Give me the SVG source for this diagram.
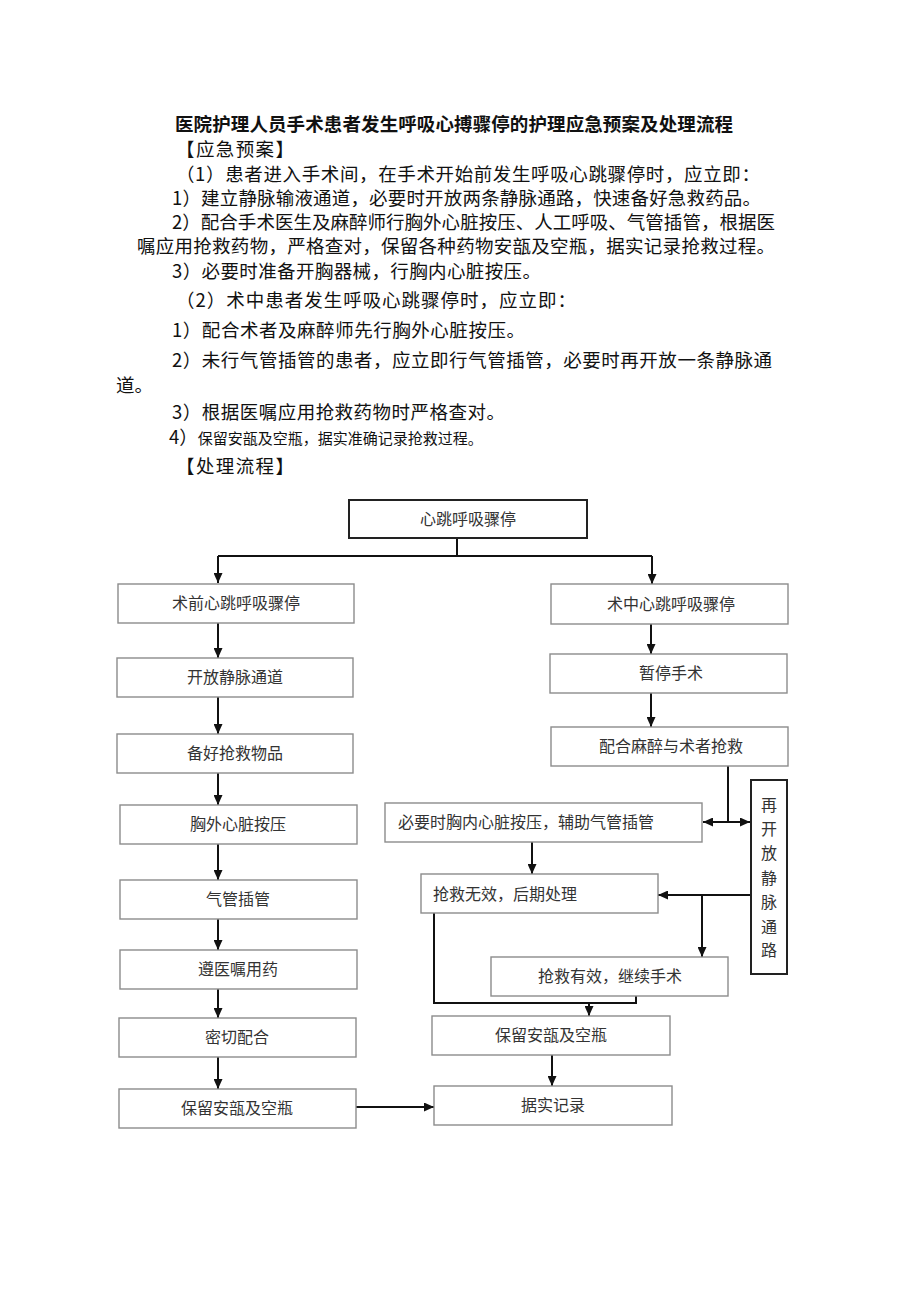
<svg xmlns="http://www.w3.org/2000/svg" width="920" height="1301" viewBox="0 0 920 1301">
<style>
  .t { font-family: "Noto Sans CJK SC", "Noto Sans", sans-serif; fill: #111; }
  .body { font-size: 18.5px; }
  .title { font-size: 18.5px; font-weight: 700; }
  .bt { font-family: "Noto Sans CJK SC", "Noto Sans", sans-serif; font-size: 16px; fill: #333; }
  .box { fill: #fff; stroke: #8c8c8c; stroke-width: 1.4; }
  .dark { fill: #fff; stroke: #222; stroke-width: 2; }
  .ln { fill: none; stroke: #111; stroke-width: 2; }
</style>
<defs>
  <marker id="ah" markerUnits="userSpaceOnUse" markerWidth="10" markerHeight="9" refX="10" refY="4.5" orient="auto-start-reverse">
    <path d="M0,0 L10,4.5 L0,9 z" fill="#111"/>
  </marker>
</defs>
<rect width="920" height="1301" fill="#fff"/>

<g id="text">
  <text class="t title" x="175" y="131" textLength="558" lengthAdjust="spacing">医院护理人员手术患者发生呼吸心搏骤停的护理应急预案及处理流程</text>
  <text class="t body" x="176" y="156" textLength="118" lengthAdjust="spacing">【应急预案】</text>
  <text class="t body" x="176" y="181" textLength="584" lengthAdjust="spacing">（1）患者进入手术间，在手术开始前发生呼吸心跳骤停时，应立即：</text>
  <text class="t body" x="172" y="205" textLength="589" lengthAdjust="spacing">1）建立静脉输液通道，必要时开放两条静脉通路，快速备好急救药品。</text>
  <text class="t body" x="172" y="229" textLength="603" lengthAdjust="spacing">2）配合手术医生及麻醉师行胸外心脏按压、人工呼吸、气管插管，根据医</text>
  <text class="t body" x="137" y="253" textLength="638" lengthAdjust="spacing">嘱应用抢救药物，严格查对，保留各种药物安瓿及空瓶，据实记录抢救过程。</text>
  <text class="t body" x="172" y="278" textLength="369" lengthAdjust="spacing">3）必要时准备开胸器械，行胸内心脏按压。</text>
  <text class="t body" x="176" y="307" textLength="400" lengthAdjust="spacing">（2）术中患者发生呼吸心跳骤停时，应立即：</text>
  <text class="t body" x="172" y="337" textLength="353" lengthAdjust="spacing">1）配合术者及麻醉师先行胸外心脏按压。</text>
  <text class="t body" x="172" y="367" textLength="600" lengthAdjust="spacing">2）未行气管插管的患者，应立即行气管插管，必要时再开放一条静脉通</text>
  <text class="t body" x="116" y="392">道。</text>
  <text class="t body" x="172" y="419" textLength="333" lengthAdjust="spacing">3）根据医嘱应用抢救药物时严格查对。</text>
  <text class="t body" x="169" y="444">4）<tspan font-size="15">保留安瓿及空瓶，据实准确记录抢救过程。</tspan></text>
  <text class="t body" x="176" y="473" textLength="118" lengthAdjust="spacing">【处理流程】</text>
</g>

<g id="connectors">
  <path class="ln" d="M457,538 V556"/>
  <path class="ln" d="M218,556 H652"/>
  <path class="ln" d="M218,556 V583" marker-end="url(#ah)"/>
  <path class="ln" d="M652,556 V584" marker-end="url(#ah)"/>
  <path class="ln" d="M218,623 V658" marker-end="url(#ah)"/>
  <path class="ln" d="M218,697 V734" marker-end="url(#ah)"/>
  <path class="ln" d="M218,773 V805" marker-end="url(#ah)"/>
  <path class="ln" d="M218,844 V880" marker-end="url(#ah)"/>
  <path class="ln" d="M218,919 V950" marker-end="url(#ah)"/>
  <path class="ln" d="M218,989 V1018" marker-end="url(#ah)"/>
  <path class="ln" d="M218,1057 V1089" marker-end="url(#ah)"/>
  <path class="ln" d="M356,1107 H434" marker-end="url(#ah)"/>
  <path class="ln" d="M651,624 V654" marker-end="url(#ah)"/>
  <path class="ln" d="M651,693 V727" marker-end="url(#ah)"/>
  <path class="ln" d="M728,766 V822"/>
  <path class="ln" d="M703,822 H750" marker-start="url(#ah)" marker-end="url(#ah)"/>
  <path class="ln" d="M532,842 V874" marker-end="url(#ah)"/>
  <path class="ln" d="M750,895 H658" marker-end="url(#ah)"/>
  <path class="ln" d="M702,895 V957" marker-end="url(#ah)"/>
  <path class="ln" d="M434,913 V1003 H636 V996"/>
  <path class="ln" d="M589,1003 V1016" marker-end="url(#ah)"/>
  <path class="ln" d="M552,1055 V1086" marker-end="url(#ah)"/>
</g>

<g id="n-top"><rect class="dark" x="349" y="500" width="238" height="38"/><text class="bt" x="468" y="525" text-anchor="middle">心跳呼吸骤停</text></g>

<g id="n-pre"><rect class="box" x="118" y="584" width="236" height="39"/><text class="bt" x="236" y="609" text-anchor="middle">术前心跳呼吸骤停</text></g>
<g id="n-iv"><rect class="box" x="117" y="658" width="236" height="39"/><text class="bt" x="235" y="683" text-anchor="middle">开放静脉通道</text></g>
<g id="n-prep"><rect class="box" x="117" y="734" width="236" height="39"/><text class="bt" x="235" y="759" text-anchor="middle">备好抢救物品</text></g>
<g id="n-cpr"><rect class="box" x="120" y="805" width="237" height="39"/><text class="bt" x="238" y="830" text-anchor="middle">胸外心脏按压</text></g>
<g id="n-intub"><rect class="box" x="120" y="880" width="237" height="39"/><text class="bt" x="238" y="905" text-anchor="middle">气管插管</text></g>
<g id="n-med"><rect class="box" x="120" y="950" width="237" height="39"/><text class="bt" x="238" y="975" text-anchor="middle">遵医嘱用药</text></g>
<g id="n-coop"><rect class="box" x="119" y="1018" width="237" height="39"/><text class="bt" x="237" y="1043" text-anchor="middle">密切配合</text></g>
<g id="n-keep-l"><rect class="box" x="119" y="1089" width="237" height="39"/><text class="bt" x="237" y="1114" text-anchor="middle">保留安瓿及空瓶</text></g>

<g id="n-intra"><rect class="box" x="551" y="584" width="237" height="40"/><text class="bt" x="671" y="610" text-anchor="middle">术中心跳呼吸骤停</text></g>
<g id="n-pause"><rect class="box" x="550" y="654" width="237" height="39"/><text class="bt" x="671" y="679" text-anchor="middle">暂停手术</text></g>
<g id="n-anes"><rect class="box" x="551" y="727" width="237" height="39"/><text class="bt" x="671" y="752" text-anchor="middle">配合麻醉与术者抢救</text></g>
<g id="n-reopen"><rect class="dark" x="751" y="780" width="36" height="194"/>
  <text class="bt" font-size="17" text-anchor="middle" fill="#222">
    <tspan x="769" y="811">再</tspan><tspan x="769" y="835">开</tspan><tspan x="769" y="859">放</tspan><tspan x="769" y="884">静</tspan><tspan x="769" y="908">脉</tspan><tspan x="769" y="933">通</tspan><tspan x="769" y="956">路</tspan>
  </text>
</g>
<g id="n-open"><rect class="box" x="385" y="803" width="317" height="39"/><text class="bt" x="398" y="828">必要时胸内心脏按压，辅助气管插管</text></g>
<g id="n-fail"><rect class="box" x="421" y="874" width="237" height="39"/><text class="bt" x="433" y="900">抢救无效，后期处理</text></g>
<g id="n-ok"><rect class="box" x="491" y="957" width="237" height="39"/><text class="bt" x="610" y="982" text-anchor="middle">抢救有效，继续手术</text></g>
<g id="n-keep-r"><rect class="box" x="432" y="1016" width="238" height="39"/><text class="bt" x="551" y="1041" text-anchor="middle">保留安瓿及空瓶</text></g>
<g id="n-record"><rect class="box" x="434" y="1086" width="238" height="39"/><text class="bt" x="553" y="1111" text-anchor="middle">据实记录</text></g>
</svg>
